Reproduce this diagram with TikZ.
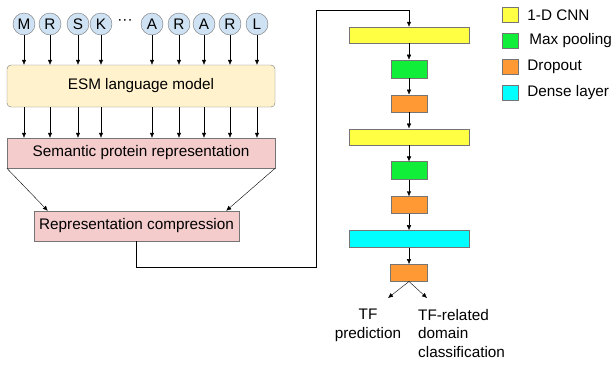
\documentclass[tikz,border=0pt]{standalone}
\usepackage{fontspec}
\setmainfont{Liberation Sans}
\usepackage{tikz}
\usetikzlibrary{arrows.meta,calc,positioning}
\definecolor{lineGray}{HTML}{757575}
\definecolor{tokenBlue}{HTML}{CFE2F3}
\definecolor{esmYellow}{HTML}{FFF2CC}
\definecolor{reprPink}{HTML}{F4CCCC}
\definecolor{cnnYellow}{HTML}{FFFF44}
\definecolor{poolGreen}{HTML}{11EE3A}
\definecolor{dropOrange}{HTML}{FF9933}
\definecolor{denseCyan}{HTML}{00FFFF}

\begin{document}
\begin{tikzpicture}[x=1pt,y=-1pt,
    node distance=16.5pt and 9pt,
    every node/.style={font=\fontsize{15.3}{18.5}\selectfont},
    token/.style={circle,draw=lineGray,fill=tokenBlue,minimum size=22pt,inner sep=0pt},
    block/.style={draw=lineGray,minimum height=30pt,inner sep=0pt},
    layer/.style={draw=lineGray,minimum height=16pt,inner sep=0pt},
    key/.style={draw=lineGray,minimum width=16pt,minimum height=15pt,inner sep=0pt},
    arrow/.style={-{Latex[length=5pt,width=4.5pt]},thin}]
    \useasboundingbox (0,0) rectangle (613,365);
    % protein sequence
    \node[token] (m) at (24,24) {M};
    \node[token] (r1) at (50,24) {R};
    \node[token] (s) at (78,24) {S};
    \node[token] (k) at (101,24) {K};
    \node (dots) at (125,22) {···};
    \node[token] (a1) at (152,24) {A};
    \node[token] (r2) at (179,24) {R};
    \node[token] (a2) at (204,24) {A};
    \node[token] (r3) at (230,24) {R};
    \node[token] (l) at (257,24) {L};
    % language model and representations
    \node[block,rounded corners=4pt,fill=esmYellow,minimum width=268pt,minimum height=42pt] (esm) at (141,86) {ESM language model};
    \node[block,fill=reprPink,minimum width=268pt] (sem) at (141,153) {Semantic protein representation};
    \node[block,fill=reprPink,minimum width=205pt] (comp) at (136.5,226) {Representation compression};
    % network layers
    \node[layer,fill=cnnYellow,minimum width=120pt] (cnn1) at (409,35) {};
    \node[layer,fill=poolGreen,minimum width=36pt,minimum height=18pt,below=of cnn1] (pool1) {};
    \node[layer,fill=dropOrange,minimum width=36pt,minimum height=17pt,below=of pool1] (drop1) {};
    \node[layer,fill=cnnYellow,minimum width=120pt,below=of drop1] (cnn2) {};
    \node[layer,fill=poolGreen,minimum width=36pt,minimum height=18pt,below=of cnn2] (pool2) {};
    \node[layer,fill=dropOrange,minimum width=36pt,minimum height=17pt,below=of pool2] (drop2) {};
    \node[layer,fill=denseCyan,minimum width=120pt,minimum height=17pt,below=of drop2] (dense) {};
    \node[layer,fill=dropOrange,minimum width=37pt,minimum height=17pt,below=of dense] (drop3) {};
    \coordinate (bend) at (316,10);
    \coordinate (predtip) at (388,298);
    \coordinate (domtip) at (427,298);
    \node[align=center,anchor=north,inner sep=0pt] (pred) at (368,309) {TF\\prediction};
    \node[align=left,anchor=north west,inner sep=0pt] (domain) at (418,309) {TF-related\\domain\\classification};
    % legend
    \node[key,fill=cnnYellow] (keycnn) at (510,15) {};
    \node[key,fill=poolGreen,below=10.5pt of keycnn] (keypool) {};
    \node[key,fill=dropOrange,below=10.5pt of keypool] (keydrop) {};
    \node[key,fill=denseCyan,below=10.5pt of keydrop] (keydense) {};
    \node[inner sep=0pt,right=of keycnn] (txtcnn) {1-D CNN};
    \node[inner sep=0pt,right=11pt of keypool] (txtpool) {Max pooling};
    \node[inner sep=0pt,right=of keydrop] (txtdrop) {Dropout};
    \node[inner sep=0pt,right=of keydense] (txtdense) {Dense layer};
    % arrows into the language model
    \draw[arrow] (m.south) -- (m.south |- esm.north);
    \draw[arrow] (r1.south) -- (r1.south |- esm.north);
    \draw[arrow] (s.south) -- (s.south |- esm.north);
    \draw[arrow] (k.south) -- (k.south |- esm.north);
    \draw[arrow] (a1.south) -- (a1.south |- esm.north);
    \draw[arrow] (r2.south) -- (r2.south |- esm.north);
    \draw[arrow] (a2.south) -- (a2.south |- esm.north);
    \draw[arrow] (r3.south) -- (r3.south |- esm.north);
    \draw[arrow] (l.south) -- (l.south |- esm.north);
    % arrows out of the language model
    \draw[arrow] (m.south |- esm.south) -- (m.south |- sem.north);
    \draw[arrow] (r1.south |- esm.south) -- (r1.south |- sem.north);
    \draw[arrow] (s.south |- esm.south) -- (s.south |- sem.north);
    \draw[arrow] (k.south |- esm.south) -- (k.south |- sem.north);
    \draw[arrow] (a1.south |- esm.south) -- (a1.south |- sem.north);
    \draw[arrow] (r2.south |- esm.south) -- (r2.south |- sem.north);
    \draw[arrow] (a2.south |- esm.south) -- (a2.south |- sem.north);
    \draw[arrow] (r3.south |- esm.south) -- (r3.south |- sem.north);
    \draw[arrow] (l.south |- esm.south) -- (l.south |- sem.north);
    \draw[arrow] (sem.south west) -- ($(comp.north west)+(14,0)$);
    \draw[arrow] (sem.south east) -- ($(comp.north east)+(-13,0)$);
    \draw[arrow] (comp.south) -- ++(0,26) -| (bend) -| (cnn1.north);
    % network flow
    \draw[arrow] (cnn1) -- (pool1);
    \draw[arrow] (pool1) -- (drop1);
    \draw[arrow] (drop1) -- (cnn2);
    \draw[arrow] (cnn2) -- (pool2);
    \draw[arrow] (pool2) -- (drop2);
    \draw[arrow] (drop2) -- (dense);
    \draw[arrow] (dense) -- (drop3);
    \draw[arrow] (drop3.south) -- (predtip);
    \draw[arrow] (drop3.south) -- (domtip);
\end{tikzpicture}
\end{document}
